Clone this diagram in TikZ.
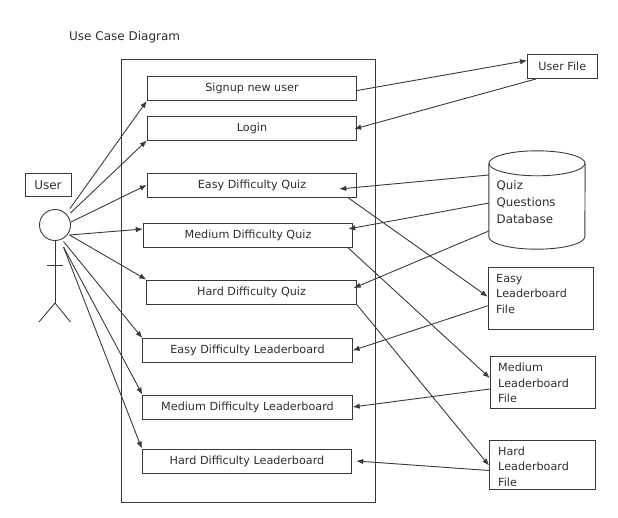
\documentclass[tikz,border=0pt]{standalone}
\usepackage{fontspec}
\setmainfont{DejaVu Sans}
\usetikzlibrary{arrows.meta, positioning}
\definecolor{inkline}{HTML}{3A3A3A}
\definecolor{inktext}{HTML}{2E2E2E}
\tikzset{
	usecase/.style = {draw = inkline, line width = 0.9pt, minimum width = 209.5pt, minimum height = 24pt, inner sep = 0pt, text = inktext, font = \fontsize{11.2}{13}\selectfont},
	filebox/.style = {draw = inkline, line width = 0.9pt, inner sep = 0pt, minimum width = 105.5pt, text = inktext},
	filetext/.style = {anchor = north west, align = left, inner sep = 0pt, text = inktext, font = \fontsize{11.2}{15.6}\selectfont},
	link/.style = {draw = inkline, line width = 0.9pt, -{Latex[length = 7pt, width = 5.5pt]}},
	stick/.style = {draw = inkline, line width = 0.9pt}
}
\begin{document}
\begin{tikzpicture}[x = 1pt, y = -1pt]
	\useasboundingbox (0, 0) rectangle (618, 517);

	\node [anchor = west, inner sep = 0pt, text = inktext, font = \fontsize{12}{14}\selectfont] (title) at (69, 37) {Use Case Diagram};
	\node [draw = inkline, line width = 0.9pt, minimum width = 254.5pt, minimum height = 443.5pt, inner sep = 0pt] (frame) at (248.5, 281) {};

	\node [usecase] (signup) at (252, 88.5) {Signup new user};
	\node [usecase] (login) at (252, 128) {Login};
	\node [usecase] (easyQuiz) at (252, 185) {Easy Difficulty Quiz};
	\node [usecase] (mediumQuiz) at (248, 235) {Medium Difficulty Quiz};
	\node [usecase] (hardQuiz) at (251.5, 292) {Hard Difficulty Quiz};
	\node [usecase] (easyBoard) at (247.5, 350.5) {Easy Difficulty Leaderboard};
	\node [usecase] (mediumBoard) at (247.5, 407) {Medium Difficulty Leaderboard};
	\node [usecase] (hardBoard) at (247, 461) {Hard Difficulty Leaderboard};

	% actor
	\node [draw = inkline, line width = 0.9pt, minimum width = 46pt, minimum height = 23.5pt, inner sep = 0pt, text = inktext, font = \fontsize{12}{14}\selectfont] (user) at (48, 185) {User};
	\node [circle, draw = inkline, line width = 0.9pt, minimum size = 31pt, inner sep = 0pt] (head) at (55, 225) {};
	\coordinate (hip) at (55, 303);
	\draw [stick] (head.south) -- (hip);
	\draw [stick] (47, 265) -- (63, 265);
	\draw [stick] (39, 322) -- (hip) -- (70.5, 322);

	% stores
	\node [filebox, minimum width = 69.5pt, minimum height = 24pt, font = \fontsize{11.2}{13}\selectfont] (userFile) at (562.25, 66.5) {User File};
	\node [minimum width = 96pt, minimum height = 98pt, inner sep = 0pt] (database) at (537, 200) {};
	\draw [stick] ([yshift = -12.5]database.north) ellipse [x radius = 48pt, y radius = 12.5pt];
	\draw [stick] ([yshift = -12.5]database.north west) -- ([yshift = 12.5]database.south west) arc [start angle = 180, end angle = 360, x radius = 48pt, y radius = 12.5pt] -- ([yshift = -12.5]database.north east);
	\node [filetext, font = \fontsize{11.8}{17}\selectfont] at (496.5, 180.5) {Quiz\\Questions\\Database};
	\node [filebox, minimum height = 62.5pt] (easyFile) at (541, 298.25) {};
	\node [filetext] at (496, 274) {Easy\\Leaderboard\\File};
	\node [filebox, minimum height = 52pt] (mediumFile) at (543, 382.5) {};
	\node [filetext] at (498, 363) {Medium\\Leaderboard\\File};
	\node [filebox, minimum height = 49pt] (hardFile) at (542.25, 464.5) {};
	\begin{scope}
		\clip (490, 441) rectangle (594, 485.5);
		\node [filetext] at (498, 446.5) {Hard\\Leaderboard\\File};
	\end{scope}

	% user to use cases
	\coordinate (armA) at (70, 208.5);
	\coordinate (armB) at (70.5, 213);
	\coordinate (armC) at (71, 222);
	\coordinate (armD) at (69.5, 235);
	\coordinate (armE) at (63.5, 241.5);
	\coordinate (armF) at (63.5, 247);
	\draw [link] (armA) -- (signup.south west);
	\draw [link] (armB) -- (login.south west);
	\draw [link] (armC) -- (easyQuiz.west);
	\draw [link] (armD) -- ([yshift = 6]mediumQuiz.west);
	\draw [link] (armD) -- (hardQuiz.north west);
	\draw [link] (armE) -- (easyBoard.north west);
	\draw [link] (armF) -- (mediumBoard.north west);
	\draw [link] (armF) -- (hardBoard.north west);

	% use cases to stores
	\draw [link] ([yshift = -2]signup.east) -- ([yshift = 6]userFile.west);
	\draw [link] ([xshift = 9]userFile.south west) -- ([xshift = -3, yshift = -1]login.east);
	\draw [link] ([yshift = 25]database.west) -- ([xshift = -18, yshift = -4]easyQuiz.east);
	\draw [link] ([yshift = -3]database.west) -- ([xshift = -5, yshift = 6]mediumQuiz.east);
	\draw [link] ([yshift = -31]database.west) -- ([xshift = -3, yshift = 4]hardQuiz.east);
	\draw [link] ([xshift = -9.5]easyQuiz.south east) -- ([yshift = 1.5]easyFile.west);
	\draw [link] ([xshift = -5.5]mediumQuiz.south east) -- ([yshift = 4.5]mediumFile.west);
	\draw [link] (hardQuiz.south east) -- ([yshift = -1]hardFile.west);

	% stores to leaderboards
	\draw [link] ([yshift = -7.5]easyFile.west) -- (easyBoard.east);
	\draw [link] ([yshift = -6.5]mediumFile.west) -- (mediumBoard.east);
	\draw [link] ([yshift = -6]hardFile.west) -- ([xshift = 4]hardBoard.east);
\end{tikzpicture}
\end{document}
